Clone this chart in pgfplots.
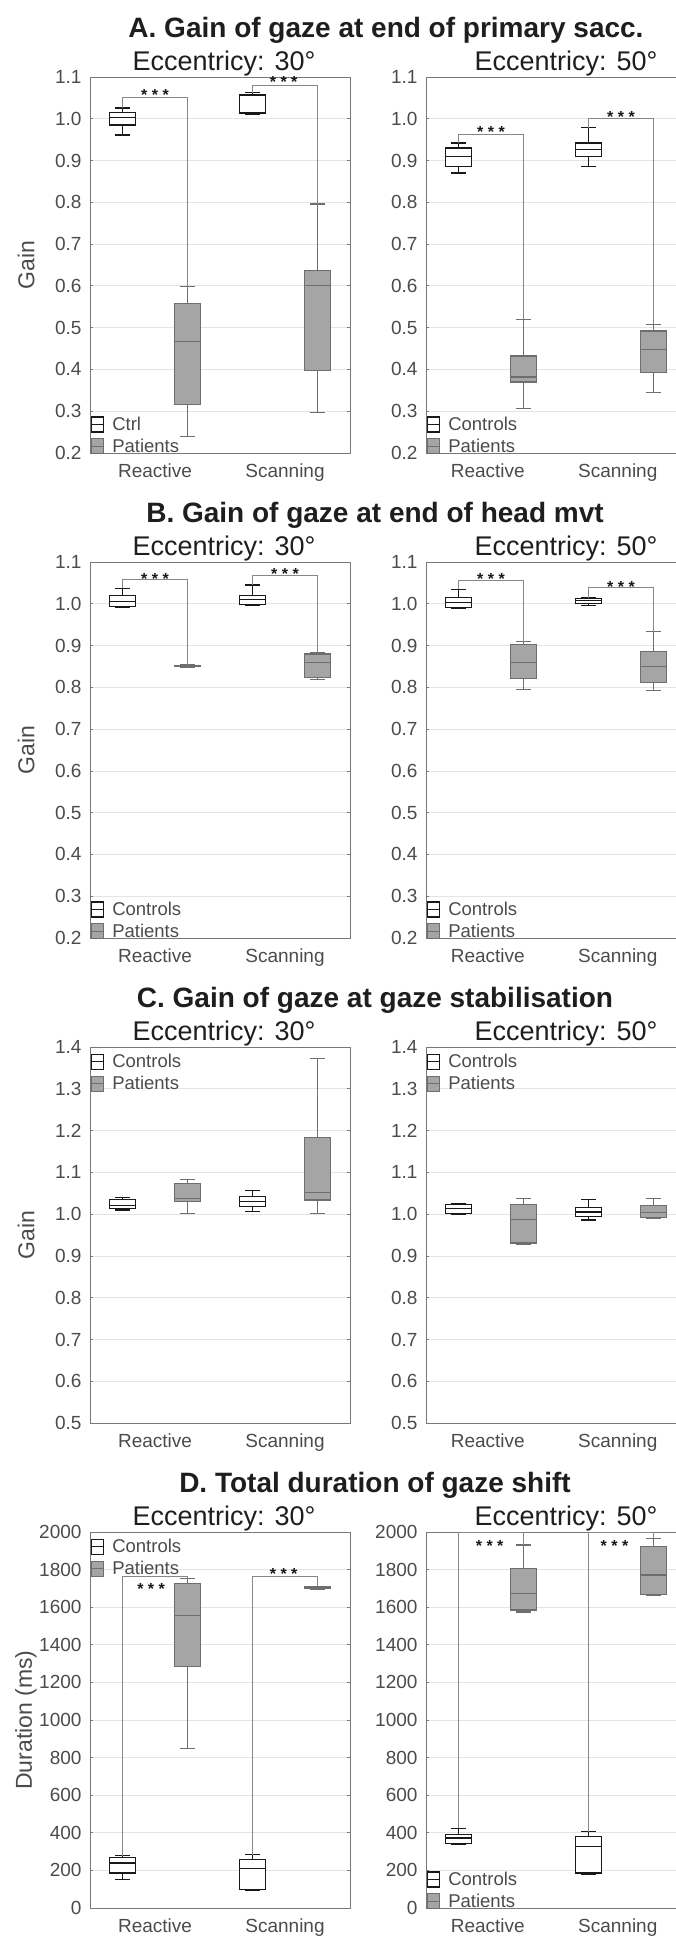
\documentclass[border=0pt]{standalone}
\usepackage{fontspec}
\setmainfont{Liberation Sans}
\usepackage{pgfplots}
\usepackage{pgfplotstable}
\pgfplotsset{compat=1.18}
\usepgfplotslibrary{statistics}

\definecolor{patfill}{RGB}{165,165,165}
\definecolor{patedge}{RGB}{110,110,110}
\definecolor{ctledge}{RGB}{25,25,25}
\definecolor{axgray}{RGB}{120,120,120}
\definecolor{gridgray}{RGB}{228,228,228}
\definecolor{txtgray}{RGB}{75,75,75}
\definecolor{brkgray}{RGB}{135,135,135}
\definecolor{titlecol}{RGB}{30,30,30}

% A: gain at end of primary saccade
\pgfplotstableread{
lw q1 med q3 uw
0.961 0.985 1.004 1.016 1.026
0.240 0.317 0.466 0.558 0.598
1.010 1.013 1.016 1.057 1.062
0.297 0.398 0.600 0.636 0.796
}\tabAL
\pgfplotstableread{
lw q1 med q3 uw
0.870 0.886 0.910 0.930 0.942
0.306 0.370 0.382 0.432 0.520
0.886 0.910 0.927 0.942 0.979
0.344 0.392 0.448 0.492 0.508
}\tabAR
% B: gain at end of head movement
\pgfplotstableread{
lw q1 med q3 uw
0.992 0.993 1.005 1.019 1.037
0.848 0.849 0.851 0.853 0.854
0.995 0.999 1.010 1.020 1.045
0.819 0.823 0.860 0.880 0.883
}\tabBL
\pgfplotstableread{
lw q1 med q3 uw
0.990 0.991 1.004 1.016 1.035
0.795 0.821 0.860 0.903 0.909
0.995 1.000 1.008 1.012 1.015
0.793 0.811 0.849 0.885 0.933
}\tabBR
% C: gain at gaze stabilisation
\pgfplotstableread{
lw q1 med q3 uw
1.010 1.013 1.020 1.035 1.040
1.002 1.030 1.038 1.074 1.082
1.006 1.018 1.030 1.042 1.056
1.002 1.034 1.051 1.183 1.372
}\tabCL
\pgfplotstableread{
lw q1 med q3 uw
1.000 1.002 1.013 1.023 1.025
0.927 0.931 0.987 1.023 1.037
0.986 0.995 1.005 1.015 1.035
0.990 0.991 1.003 1.021 1.037
}\tabCR
% D: total duration of gaze shift
\pgfplotstableread{
lw q1 med q3 uw
150 186 239 269 278
850 1283 1558 1726 1752
94 97 212 257 283
1697 1699 1704 1709 1712
}\tabDL
\pgfplotstableread{
lw q1 med q3 uw
336 342 372 389 425
1575 1585 1673 1807 1931
177 186 327 380 407
1665 1667 1771 1922 1966
}\tabDR

\pgfplotsset{
  panel/.style={
    scale only axis, width=260pt, height=376pt,
    xmin=0.5, xmax=4.5,
    xtick={1.5,3.5}, xticklabels={Reactive,Scanning},
    x tick style={draw=none},
    y tick style={draw=axgray, line width=0.8pt},
    major tick length=3pt, tick align=inside,
    ymajorgrids, major grid style={draw=gridgray, line width=0.8pt},
    axis line style={draw=axgray, line width=1pt},
    tick label style={font=\fontsize{19}{20}\selectfont, color=txtgray},
    xticklabel style={yshift=-7pt},
    yticklabel style={xshift=-5pt},
    label style={font=\fontsize{23}{24}\selectfont, color=txtgray},
    /pgf/number format/assume math mode=true,
    scaled y ticks=false,
    legend style={draw=none, fill=none, font=\fontsize{18.5}{20}\selectfont, text=txtgray, inner sep=1pt, row sep=3pt,
      /tikz/every odd column/.append style={column sep=6pt}},
    legend cell align=left,
    clip=false,
    boxplot/draw direction=y,
    boxplot/box extend=0.40,
    boxplot/whisker extend=0.22,
  },
  rightpanel/.style={xtick={1.45,3.45}},
  gainA/.style={ymin=0.2, ymax=1.1, ytick={0.2,0.3,0.4,0.5,0.6,0.7,0.8,0.9,1.0,1.1},
    yticklabel style={/pgf/number format/.cd, fixed, fixed zerofill, precision=1}},
  gainC/.style={ymin=0.5, ymax=1.4, ytick={0.5,0.6,0.7,0.8,0.9,1.0,1.1,1.2,1.3,1.4},
    yticklabel style={/pgf/number format/.cd, fixed, fixed zerofill, precision=1}},
  durD/.style={ymin=0, ymax=2000, ytick={0,200,400,600,800,1000,1200,1400,1600,1800,2000},
    yticklabel style={/pgf/number format/.cd, fixed, precision=0, 1000 sep={}}},
  ylab/.style={ylabel style={at={(axis description cs:-0.246,0.5)}, anchor=center}},
  legbot/.style={legend style={at={(0,0)}, anchor=south west, xshift=0pt, yshift=-4pt}},
  legtop/.style={legend style={at={(0,1)}, anchor=north west, xshift=0pt, yshift=-4pt}},
  ctl/.style={draw=ctledge, fill=white, line width=1.2pt, solid},
  pat/.style={draw=patedge, fill=patfill, line width=1.2pt, solid},
  ctlleg/.style={legend image code/.code={
     \draw[draw=ctledge, fill=white, line width=1.1pt] (0pt,-7.5pt) rectangle (12pt,7.5pt);
     \draw[draw=ctledge, line width=1.1pt] (0pt,0pt) -- (12pt,0pt);}},
  patleg/.style={legend image code/.code={
     \draw[draw=patedge, fill=patfill, line width=1.1pt] (0pt,-7.5pt) rectangle (12pt,7.5pt);
     \draw[draw=patedge, line width=1.1pt] (0pt,0pt) -- (12pt,0pt);}},
  brk/.style={color=brkgray, line width=0.8pt},
}

% one box: #1 table, #2 row, #3 style, #4 draw position
\newcommand\onebox[4]{%
  \pgfplotstablegetelem{#2}{lw}\of#1\let\bLW\pgfplotsretval
  \pgfplotstablegetelem{#2}{q1}\of#1\let\bQA\pgfplotsretval
  \pgfplotstablegetelem{#2}{med}\of#1\let\bMD\pgfplotsretval
  \pgfplotstablegetelem{#2}{q3}\of#1\let\bQB\pgfplotsretval
  \pgfplotstablegetelem{#2}{uw}\of#1\let\bUW\pgfplotsretval
  \edef\doplot{\noexpand\addplot[#3, boxplot prepared={draw position=#4, lower whisker=\bLW, lower quartile=\bQA, median=\bMD, upper quartile=\bQB, upper whisker=\bUW}] coordinates {};}%
  \doplot
}
\newcommand\fourboxes[1]{%
  \onebox{#1}{0}{ctl}{1}%
  \onebox{#1}{1}{pat}{2}%
  \onebox{#1}{2}{ctl}{3}%
  \onebox{#1}{3}{pat}{4}%
}
\newcommand\legendCP[1]{%
  \addlegendimage{ctlleg}\addlegendentry{#1}
  \addlegendimage{patleg}\addlegendentry{Patients}
}
\newcommand\stars[2]{\node[anchor=base, font=\fontsize{16}{16}\selectfont\bfseries, text=ctledge] at (axis cs:#1,#2) {* * *};}

\begin{document}
\begin{tikzpicture}
\path[use as bounding box] (0pt,0pt) rectangle (676pt,-1936pt);
\clip (0pt,0pt) rectangle (676pt,-1936pt);

\tikzset{ttl/.style={anchor=base, font=\fontsize{28}{30}\selectfont\bfseries, text=titlecol},
         sub/.style={anchor=base, font=\fontsize{27}{28}\selectfont, text=titlecol}}

% ---------------- Row A ----------------
\node[ttl] at (386pt,-37pt) {A. Gain of gaze at end of primary sacc.};
\node[sub] at (224pt,-70pt) {Eccentricy: 30°};
\node[sub] at (566pt,-70pt) {Eccentricy: 50°};
\begin{axis}[panel, gainA, ylab, legbot, at={(90pt,-453pt)}, anchor=south west, ylabel={Gain}]
  \legendCP{Ctrl}
  \fourboxes{\tabAL}
  \addplot[brk] coordinates {(1,1.026) (1,1.05) (2,1.05) (2,0.598)};
  \addplot[brk] coordinates {(3,1.062) (3,1.081) (4,1.081) (4,0.796)};
  \stars{1.5}{1.043}
  \stars{3.48}{1.074}
\end{axis}
\begin{axis}[panel, rightpanel, gainA, legbot, at={(426pt,-453pt)}, anchor=south west]
  \legendCP{Controls}
  \fourboxes{\tabAR}
  \addplot[brk] coordinates {(1,0.942) (1,0.962) (2,0.962) (2,0.520)};
  \addplot[brk] coordinates {(3,0.979) (3,1.002) (4,1.002) (4,0.508)};
  \stars{1.5}{0.956}
  \stars{3.5}{0.992}
\end{axis}

% ---------------- Row B ----------------
\node[ttl] at (375pt,-522pt) {B. Gain of gaze at end of head mvt};
\node[sub] at (224pt,-555pt) {Eccentricy: 30°};
\node[sub] at (566pt,-555pt) {Eccentricy: 50°};
\begin{axis}[panel, gainA, ylab, legbot, at={(90pt,-938pt)}, anchor=south west, ylabel={Gain}]
  \legendCP{Controls}
  \fourboxes{\tabBL}
  \addplot[brk] coordinates {(1,1.037) (1,1.058) (2,1.058) (2,0.854)};
  \addplot[brk] coordinates {(3,1.045) (3,1.068) (4,1.068) (4,0.883)};
  \stars{1.5}{1.047}
  \stars{3.5}{1.057}
\end{axis}
\begin{axis}[panel, rightpanel, gainA, legbot, at={(426pt,-938pt)}, anchor=south west]
  \legendCP{Controls}
  \fourboxes{\tabBR}
  \addplot[brk] coordinates {(1,1.035) (1,1.056) (2,1.056) (2,0.909)};
  \addplot[brk] coordinates {(3,1.015) (3,1.039) (4,1.039) (4,0.933)};
  \stars{1.5}{1.047}
  \stars{3.5}{1.028}
\end{axis}

% ---------------- Row C ----------------
\node[ttl] at (375pt,-1007pt) {C. Gain of gaze at gaze stabilisation};
\node[sub] at (224pt,-1040pt) {Eccentricy: 30°};
\node[sub] at (566pt,-1040pt) {Eccentricy: 50°};
\begin{axis}[panel, gainC, ylab, legtop, at={(90pt,-1423pt)}, anchor=south west, ylabel={Gain}]
  \legendCP{Controls}
  \fourboxes{\tabCL}
\end{axis}
\begin{axis}[panel, rightpanel, gainC, legtop, at={(426pt,-1423pt)}, anchor=south west]
  \legendCP{Controls}
  \fourboxes{\tabCR}
\end{axis}

% ---------------- Row D ----------------
\node[ttl] at (375pt,-1492pt) {D. Total duration of gaze shift};
\node[sub] at (224pt,-1525pt) {Eccentricy: 30°};
\node[sub] at (566pt,-1525pt) {Eccentricy: 50°};
\begin{axis}[panel, durD, ylab, legtop, at={(90pt,-1908pt)}, anchor=south west, ylabel={Duration (ms)}]
  \legendCP{Controls}
  \fourboxes{\tabDL}
  \addplot[brk] coordinates {(1,278) (1,1766) (2,1766) (2,1752)};
  \addplot[brk] coordinates {(3,283) (3,1766) (4,1766) (4,1712)};
  \stars{1.44}{1670}
  \stars{3.48}{1745}
\end{axis}
\begin{axis}[panel, rightpanel, durD, legbot, at={(426pt,-1908pt)}, anchor=south west]
  \legendCP{Controls}
  \fourboxes{\tabDR}
  \addplot[brk] coordinates {(1,425) (1,2000) (2,2000) (2,1931)};
  \addplot[brk] coordinates {(3,407) (3,2000) (4,2000) (4,1966)};
  \stars{1.48}{1894}
  \stars{3.4}{1894}
\end{axis}
\end{tikzpicture}
\end{document}
